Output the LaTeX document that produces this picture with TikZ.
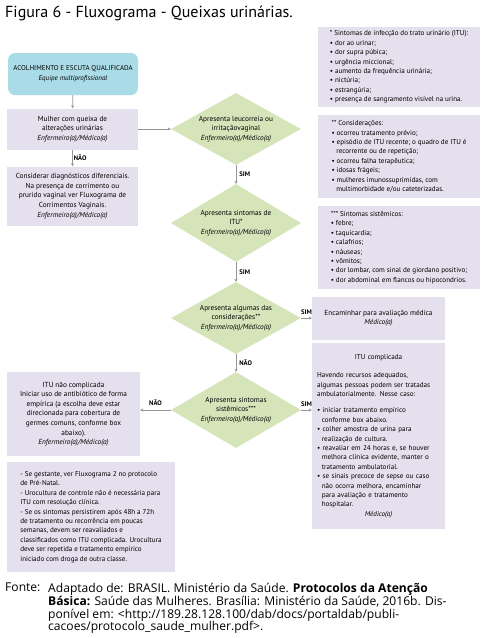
\documentclass[tikz,border=0pt]{standalone}
\usepackage{fontspec}
\setmainfont{PT Sans}
\newfontfamily\fontefont{Open Sans}
\usetikzlibrary{shapes.geometric,arrows.meta}

\definecolor{acolheblue}{RGB}{170,220,232}
\definecolor{boxlilac}{RGB}{229,224,237}
\definecolor{losgreen}{RGB}{214,228,186}
\definecolor{setagray}{RGB}{150,150,150}

\newcommand{\marca}{\textbullet\ }
\newcommand{\recuo}{\hspace*{4.8pt}}
\newcommand{\prof}{\textit{Enfermeiro(a)/Médico(a)}}

\tikzset{
  caixa/.style={rectangle, fill=boxlilac, inner sep=3pt, align=center,
    font=\fontsize{7.3}{9.6}\selectfont},
  nota/.style={caixa, align=left, font=\fontsize{7.1}{9.4}\selectfont},
  losango/.style={diamond, fill=losgreen, inner sep=0pt},
  lostexto/.style={align=center, font=\fontsize{7.3}{9.6}\selectfont},
  seta/.style={draw=setagray, line width=0.8pt, -{Stealth[length=3pt,width=3pt]}},
  rotulo/.style={font=\fontsize{6.6}{8}\selectfont\bfseries, inner sep=1pt},
}

\begin{document}
\begin{tikzpicture}[x=1pt,y=-1pt]
  % Fix the page size
  \fill[white] (0,0) rectangle (487,638);
  \useasboundingbox (0,0) rectangle (487,638);

  % Draw the title
  \node[anchor=base west, inner sep=0, font=\fontsize{16}{18}\selectfont] (titulo) at (5,17)
    {Figura 6 - Fluxograma - Queixas urinárias.};

  % Draw the left column
  \node[caixa, fill=acolheblue, rounded corners=7pt, minimum width=130pt, minimum height=42pt,
    font=\fontsize{7}{9.6}\selectfont] (acolhe) at (73,74)
    {ACOLHIMENTO E ESCUTA QUALIFICADA\\\textit{Equipe multiprofissional}};
  \node[caixa, minimum width=131pt, minimum height=41pt] (queixa) at (72.5,129)
    {Mulher com queixa de\\alterações urinárias\\\prof};
  \node[caixa, minimum width=131pt, minimum height=59pt] (difer) at (72.5,196)
    {Considerar diagnósticos diferenciais.\\Na presença de corrimento ou\\prurido vaginal ver Fluxograma de\\Corrimentos Vaginais.\\\prof};
  \node[caixa, minimum width=133pt, minimum height=84pt] (naocomp) at (73.5,414)
    {ITU não complicada\\Iniciar uso de antibiótico de forma\\empírica (a escolha deve estar\\direcionada para cobertura de\\germes comuns, conforme box\\abaixo).\\\prof};
  \node[nota, minimum width=168pt, minimum height=110pt] (notas) at (91,517)
    {- Se gestante, ver Fluxograma 2 no protocolo\\de Pré-Natal.\\
     - Urocultura de controle não é necessária para\\ITU com resolução clínica.\\
     - Se os sintomas persistirem após 48h a 72h\\de tratamento ou recorrência em poucas\\
     semanas, devem ser reavaliados e\\classificados como ITU complicada. Urocultura\\
     deve ser repetida e tratamento empírico\\iniciado com droga de outra classe.};

  % Draw the decisions
  \node[losango, minimum width=130pt, minimum height=72pt] (leuco) at (236,129) {};
  \node[lostexto] (leucotx) at (leuco) {Apresenta leucorreia ou\\irritaçãovaginal\\\prof};
  \node[losango, minimum width=130pt, minimum height=78pt] (itu) at (236,223) {};
  \node[lostexto] (itutx) at (itu) {Apresenta sintomas de\\ITU*\\\prof};
  \node[losango, minimum width=130pt, minimum height=72pt] (consid) at (236,318) {};
  \node[lostexto] (considtx) at (consid) {Apresenta algumas das\\considerações**\\\prof};
  \node[losango, minimum width=130pt, minimum height=76pt] (sistem) at (236,410) {};
  \node[lostexto] (sistemtx) at (sistem) {Apresenta sintomas\\sistêmicos***\\\prof};

  % Draw the right column
  \node[nota, minimum width=162pt, minimum height=80pt] (notaitu) at (399,67)
    {* Sintomas de infecção do trato urinário (ITU):\\\marca dor ao urinar;\\\marca dor supra púbica;\\
     \marca urgência miccional;\\\marca aumento da frequência urinária;\\\marca nictúria;\\
     \marca estrangúria;\\\marca presença de sangramento visível na urina.};
  \node[nota, minimum width=162pt, minimum height=83pt] (notacons) at (399,156.5)
    {** Considerações:\\\marca ocorreu tratamento prévio;\\\marca episódio de ITU recente; o quadro de ITU é\\
     \recuo recorrente ou de repetição;\\\marca ocorreu falha terapêutica;\\\marca idosas frágeis;\\
     \marca mulheres imunossuprimidas, com\\\recuo multimorbidade e/ou cateterizadas.};
  \node[nota, minimum width=162pt, minimum height=83pt] (notasist) at (399,247.5)
    {*** Sintomas sistêmicos:\\\marca febre;\\\marca taquicardia;\\\marca calafrios;\\\marca náuseas;\\
     \marca vômitos;\\\marca dor lombar, com sinal de giordano positivo;\\\marca dor abdominal em flancos ou hipocondrios.};
  \node[caixa, minimum width=133pt, minimum height=43pt] (encam) at (378.5,318)
    {Encaminhar para avaliação médica\\\textit{Médico(a)}};
  \node[nota, text width=123pt, minimum width=133pt, minimum height=186pt] (complic) at (378.5,436)
    {\makebox[\linewidth][c]{ITU complicada}\\[9pt]
     Havendo recursos adequados,\\algumas pessoas podem ser tratadas\\ambulatorialmente. Nesse caso:\\[7pt]
     \marca iniciar tratamento empírico\\\recuo conforme box abaixo.\\
     \marca colher amostra de urina para\\\recuo realização de cultura.\\
     \marca reavaliar em 24 horas e, se houver\\\recuo melhora clínica evidente, manter o\\\recuo tratamento ambulatorial.\\
     \marca se sinais precoce de sepse ou caso\\\recuo não ocorra melhora, encaminhar\\\recuo para avaliação e tratamento\\\recuo hospitalar.\\
     \makebox[\linewidth][c]{\textit{Médico(a)}}};

  % Draw the connectors
  \draw[seta] (acolhe) -- (queixa);
  \draw[seta] (queixa) -- (leuco);
  \draw[seta] (queixa) -- node[rotulo, right] {NÃO} (difer);
  \draw[seta] (leuco) -- node[rotulo, right=2pt] {SIM} (itu);
  \draw[seta] (itu) -- node[rotulo, right=2pt] {SIM} (consid);
  \draw[seta] (consid) -- node[rotulo, right=2pt] {NÃO} (sistem);
  \draw[seta] (consid.east) -- node[rotulo, above=2pt] {SIM} (encam.west);
  \draw[seta] (sistem.east) -- node[rotulo, above=2pt] {SIM} (sistem.east -| complic.west);
  \draw[seta] (sistem.west) -- node[rotulo, above=3pt] {NÃO} (sistem.west -| naocomp.east);

  % Draw the source
  \node[anchor=north west, inner sep=0, font=\fontefont\fontsize{12.1}{12.8}\selectfont] (fonte) at (5,583) {Fonte:};
  \node[anchor=north west, inner sep=0, align=left, font=\fontefont\fontsize{12.1}{12.8}\selectfont] (fontetx) at (48,583)
    {Adaptado de: BRASIL. Ministério da Saúde. \textbf{Protocolos da Atenção}\\
     \textbf{Básica:} Saúde das Mulheres. Brasília: Ministério da Saúde, 2016b. Dis-\\
     ponível em: <http://189.28.128.100/dab/docs/portaldab/publi-\\
     cacoes/protocolo\_saude\_mulher.pdf>.};
\end{tikzpicture}
\end{document}
